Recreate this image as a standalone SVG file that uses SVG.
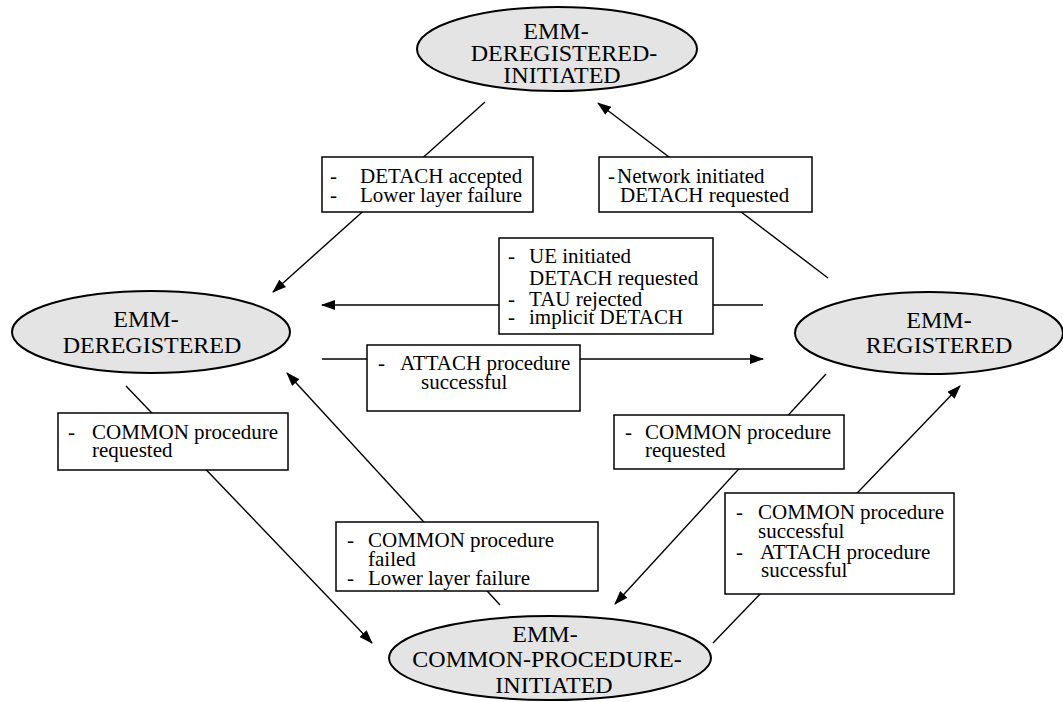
<svg xmlns="http://www.w3.org/2000/svg" width="1063" height="702" viewBox="0 0 1063 702" font-family="Liberation Serif, Times New Roman, serif">
<style>
.state{fill:#e4e4e4;stroke:#000;stroke-width:2}
.st{font-size:24px;fill:#000;text-anchor:middle}
.box{fill:#fff;stroke:#000;stroke-width:1.5}
.lb{font-size:21px;fill:#000}
.c{stroke:#000;stroke-width:1.4;fill:none}
.a{marker-end:url(#arr)}
</style>
<defs>
<marker id="arr" markerUnits="userSpaceOnUse" markerWidth="14" markerHeight="10" refX="13" refY="5" orient="auto">
<path d="M0,0 L14,5 L0,10 z" fill="#000"/>
</marker>
</defs>
<rect width="1063" height="702" fill="#fff"/>
<g id="connectors">
<line class="c a" x1="485" y1="102" x2="273" y2="292"/>
<line class="c a" x1="828" y1="278" x2="598" y2="103"/>
<line class="c a" x1="763" y1="305" x2="322" y2="305"/>
<line class="c a" x1="322" y1="359" x2="763" y2="359"/>
<line class="c a" x1="126" y1="386" x2="372" y2="643"/>
<line class="c a" x1="500" y1="605" x2="287" y2="373"/>
<line class="c a" x1="826" y1="374" x2="615" y2="604"/>
<line class="c a" x1="713" y1="643" x2="960" y2="386"/>
</g>
<g id="labels" font-family="Liberation Serif">
<g id="lbl-detach-accepted">
<rect class="box" x="322" y="157" width="211" height="55"/>
<text class="lb" x="330" y="183">-</text><text class="lb" x="360" y="183">DETACH accepted</text>
<text class="lb" x="330" y="202">-</text><text class="lb" x="360" y="202">Lower layer failure</text>
</g>
<g id="lbl-network-detach">
<rect class="box" x="599" y="157" width="213" height="55"/>
<text class="lb" x="608" y="183">-</text><text class="lb" x="617" y="183">Network initiated</text>
<text class="lb" x="620" y="202">DETACH requested</text>
</g>
<g id="lbl-ue-detach">
<rect class="box" x="499" y="238" width="214" height="96"/>
<text class="lb" x="508" y="263">-</text><text class="lb" x="529" y="263">UE initiated</text>
<text class="lb" x="529" y="285">DETACH requested</text>
<text class="lb" x="508" y="306">-</text><text class="lb" x="529" y="306">TAU rejected</text>
<text class="lb" x="508" y="324">-</text><text class="lb" x="529" y="324">implicit DETACH</text>
</g>
<g id="lbl-attach">
<rect class="box" x="367" y="345" width="213" height="66"/>
<text class="lb" x="378" y="370">-</text><text class="lb" x="400" y="370">ATTACH procedure</text>
<text class="lb" x="421" y="389">successful</text>
</g>
<g id="lbl-common-req-left">
<rect class="box" x="58" y="413" width="230" height="57"/>
<text class="lb" x="68" y="439">-</text><text class="lb" x="92" y="439">COMMON procedure</text>
<text class="lb" x="92" y="457">requested</text>
</g>
<g id="lbl-common-req-right">
<rect class="box" x="614" y="415" width="230" height="54"/>
<text class="lb" x="625" y="439">-</text><text class="lb" x="645" y="439">COMMON procedure</text>
<text class="lb" x="645" y="457">requested</text>
</g>
<g id="lbl-common-failed">
<rect class="box" x="336" y="522" width="262" height="69"/>
<text class="lb" x="347" y="547">-</text><text class="lb" x="368" y="547">COMMON procedure</text>
<text class="lb" x="368" y="566">failed</text>
<text class="lb" x="347" y="585">-</text><text class="lb" x="368" y="585">Lower layer failure</text>
</g>
<g id="lbl-common-success">
<rect class="box" x="725" y="493" width="229" height="101"/>
<text class="lb" x="736" y="519">-</text><text class="lb" x="758" y="519">COMMON procedure</text>
<text class="lb" x="758" y="538">successful</text>
<text class="lb" x="736" y="559">-</text><text class="lb" x="760" y="559">ATTACH procedure</text>
<text class="lb" x="761" y="577">successful</text>
</g>
</g>
<g id="emm-deregistered-initiated" font-family="Liberation Serif">
<ellipse class="state" cx="557" cy="49" rx="140" ry="42"/>
<text class="st" x="556" y="39">EMM-</text>
<text class="st" x="564" y="61">DEREGISTERED-</text>
<text class="st" x="562" y="83">INITIATED</text>
</g>
<g id="emm-deregistered" font-family="Liberation Serif">
<ellipse class="state" cx="151" cy="332" rx="139" ry="41"/>
<text class="st" x="146" y="327">EMM-</text>
<text class="st" x="152" y="353">DEREGISTERED</text>
</g>
<g id="emm-registered" font-family="Liberation Serif">
<ellipse class="state" cx="929" cy="333" rx="134" ry="41"/>
<text class="st" x="939" y="328">EMM-</text>
<text class="st" x="939" y="353">REGISTERED</text>
</g>
<g id="emm-common-procedure-initiated" font-family="Liberation Serif">
<ellipse class="state" cx="550" cy="658" rx="161" ry="42"/>
<text class="st" x="545" y="642">EMM-</text>
<text class="st" x="547" y="667">COMMON-PROCEDURE-</text>
<text class="st" x="554" y="693">INITIATED</text>
</g>
</svg>
